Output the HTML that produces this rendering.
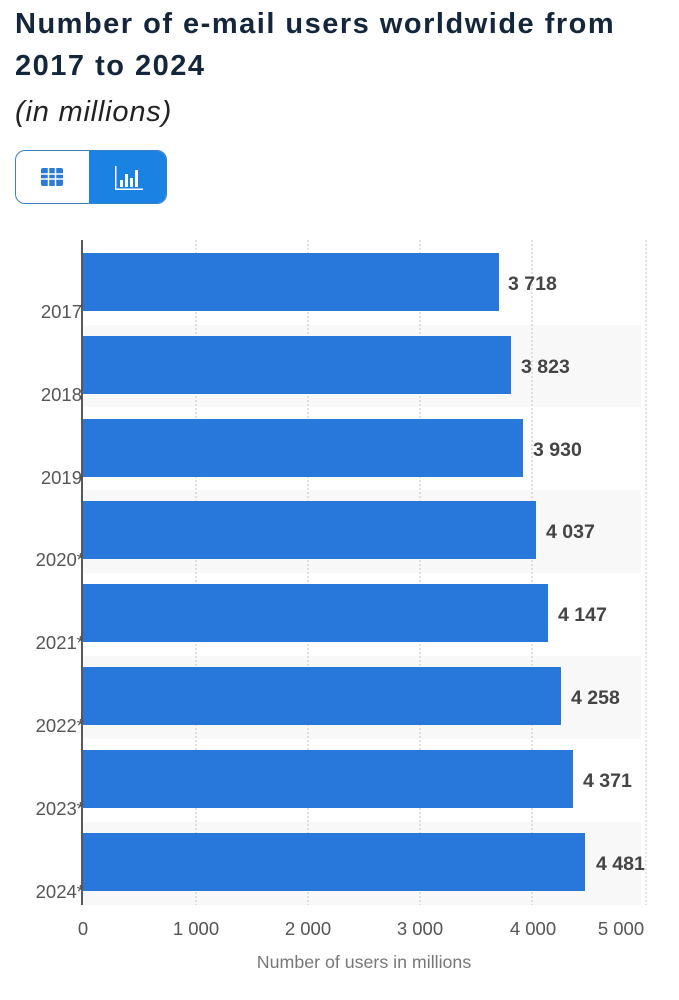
<!DOCTYPE html>
<html><head><style>
body{margin:0;width:679px;height:1000px;background:#fff;font-family:"Liberation Sans",sans-serif;position:relative;overflow:hidden}
.t{position:absolute;left:15px;top:3px;font-size:29px;letter-spacing:1.5px;font-weight:bold;color:#13263b;line-height:42px;width:670px;white-space:nowrap}
.s{position:absolute;left:15px;top:96px;font-size:29px;letter-spacing:0.8px;font-style:italic;color:#222}
</style></head><body>
<div class="t">Number of e-mail users worldwide from<br>2017 to 2024</div>
<div class="s">(in millions)</div>
<div style="position:absolute;left:15px;top:150px;width:150px;height:52px;border:1px solid #3a7fc9;border-radius:10px;overflow:hidden">
<div style="position:absolute;left:73px;top:0;width:77px;height:52px;background:#1a82e2"></div>
<svg style="position:absolute;left:25px;top:17px" width="22" height="18"><rect x="0" y="0" width="22" height="18" rx="2" fill="#2d7ad6"/><g stroke="#fff" stroke-width="1.5"><line x1="0" y1="6" x2="22" y2="6"/><line x1="0" y1="11" x2="22" y2="11"/><line x1="7.5" y1="0" x2="7.5" y2="18"/><line x1="14.5" y1="0" x2="14.5" y2="18"/></g></svg>
<svg style="position:absolute;left:99px;top:15px" width="28" height="24" fill="#fff"><rect x="0" y="0" width="1.5" height="24"/><rect x="0" y="22.5" width="28" height="1.5"/><rect x="5" y="14" width="3" height="7"/><rect x="10" y="8" width="3" height="13"/><rect x="15" y="12" width="3" height="9"/><rect x="20" y="4" width="3" height="17"/></svg>
</div>
<svg style="position:absolute;left:0;top:0" width="679" height="1000" font-family="Liberation Sans, sans-serif">
<g fill="#f8f8f8"><rect x="83" y="325" width="558" height="82"/><rect x="83" y="490" width="558" height="83"/><rect x="83" y="656" width="558" height="83"/><rect x="83" y="822" width="558" height="83"/></g>
<g stroke="#ccc" stroke-dasharray="2,2" stroke-width="1.2"><line x1="196" y1="240" x2="196" y2="905"/><line x1="308" y1="240" x2="308" y2="905"/><line x1="420" y1="240" x2="420" y2="905"/><line x1="532" y1="240" x2="532" y2="905"/><line x1="646" y1="240" x2="646" y2="905"/></g>
<g fill="#2878dc">
<rect x="83" y="253" width="416" height="58"/>
<rect x="83" y="336" width="428" height="58"/>
<rect x="83" y="419" width="440" height="58"/>
<rect x="83" y="501" width="453" height="58"/>
<rect x="83" y="584" width="465" height="58"/>
<rect x="83" y="667" width="478" height="58"/>
<rect x="83" y="750" width="490" height="58"/>
<rect x="83" y="833" width="502" height="58"/>
</g>
<line x1="82" y1="240" x2="82" y2="905" stroke="#222" stroke-width="1.5"/>
<g font-size="19.5" font-weight="bold" fill="#444">
<text x="508" y="290">3 718</text><text x="521" y="373">3 823</text><text x="533" y="456">3 930</text><text x="546" y="538">4 037</text><text x="558" y="621">4 147</text><text x="571" y="704">4 258</text><text x="583" y="787">4 371</text><text x="596" y="870">4 481</text>
</g>
<g font-size="18.5" fill="#555" text-anchor="end">
<text x="82" y="318">2017</text><text x="82" y="401">2018</text><text x="82" y="484">2019</text><text x="84" y="566">2020*</text><text x="84" y="649">2021*</text><text x="84" y="732">2022*</text><text x="84" y="815">2023*</text><text x="84" y="898">2024*</text>
</g>
<g font-size="18.5" fill="#555" text-anchor="middle">
<text x="83" y="935">0</text><text x="196" y="935">1 000</text><text x="308" y="935">2 000</text><text x="420" y="935">3 000</text><text x="533" y="935">4 000</text><text x="621" y="935">5 000</text>
</g>
<text x="364" y="968" font-size="17.8" fill="#777" text-anchor="middle">Number of users in millions</text>
</svg>
</body></html>
